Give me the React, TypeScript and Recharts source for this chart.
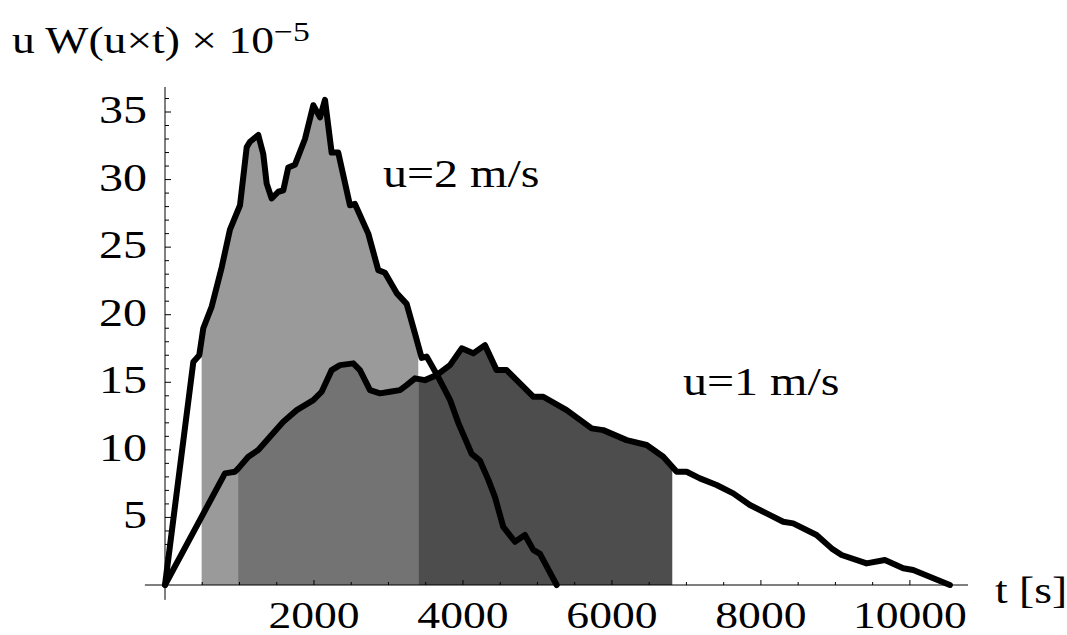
import React from 'react'
import { ComposedChart, Area, Line, XAxis, YAxis, ReferenceLine } from 'recharts'

// u = 2 m/s curve (t in s, value x 10^-5)
const u2T = [0, 380, 460, 514, 627, 761, 872, 1007, 1097, 1141, 1252, 1319, 1365, 1432, 1521, 1588, 1655, 1745, 1879, 1991, 2081, 2148, 2237, 2326, 2483, 2550, 2729, 2863, 2953, 3110, 3244, 3356, 3446, 3513, 3647, 3826, 3937, 4117, 4228, 4340, 4430, 4541, 4698, 4832, 4944, 5034, 5258]
const u2V = [0, 16.5, 17.0, 19.0, 20.6, 23.5, 26.3, 28.1, 32.4, 32.8, 33.3, 31.9, 29.7, 28.6, 29.1, 29.2, 30.9, 31.1, 33.0, 35.5, 34.6, 35.9, 32.0, 32.0, 28.1, 28.2, 26.0, 23.3, 23.1, 21.6, 20.8, 18.6, 16.8, 16.9, 15.6, 13.7, 12.0, 9.7, 9.2, 7.8, 6.5, 4.3, 3.2, 3.7, 2.6, 2.3, 0]

// u = 1 m/s curve
const u1T = [0, 805, 940, 984, 1118, 1252, 1409, 1588, 1768, 1991, 2103, 2237, 2349, 2527, 2617, 2752, 2886, 3020, 3154, 3244, 3356, 3490, 3647, 3826, 3983, 4138, 4295, 4452, 4586, 4944, 5078, 5392, 5727, 5883, 6197, 6466, 6689, 6869, 7003, 7181, 7405, 7628, 7852, 8076, 8299, 8433, 8747, 8949, 9083, 9419, 9664, 9910, 10044, 10537]
const u1V = [0, 8.26, 8.38, 8.63, 9.49, 9.99, 10.97, 12.08, 12.94, 13.68, 14.3, 15.9, 16.27, 16.4, 15.9, 14.42, 14.18, 14.3, 14.42, 14.79, 15.29, 15.16, 15.53, 16.27, 17.51, 17.14, 17.75, 15.9, 15.9, 13.93, 13.93, 12.94, 11.59, 11.46, 10.72, 10.36, 9.49, 8.38, 8.38, 7.89, 7.4, 6.78, 5.92, 5.3, 4.68, 4.56, 3.7, 2.71, 2.22, 1.6, 1.85, 1.24, 1.11, 0]

// shaded bands: start/end time and the curve height read at each edge
const lightBand = [492, 3400]
const lightEdge = [18.2, 17.7]
const midBand = [984, 3400]
const midEdge = [8.63, 15.2]
const darkBand = [3400, 6810]
const darkEdge = [15.2, 8.7]

const xTicks = [500, 1000, 1500, 2000, 2500, 3000, 3500, 4000, 4500, 5000, 5500, 6000, 6500, 7000, 7500, 8000, 8500, 9000, 9500, 10000, 10500]
const xLabels = [2000, 4000, 6000, 8000, 10000]
const yTicks = [1, 2, 3, 4, 5, 6, 7, 8, 9, 10, 11, 12, 13, 14, 15, 16, 17, 18, 19, 20, 21, 22, 23, 24, 25, 26, 27, 28, 29, 30, 31, 32, 33, 34, 35, 36]
const yLabels = [5, 10, 15, 20, 25, 30, 35]

const FONT = "'Liberation Serif', 'Times New Roman', serif"

const rows = new Map<number, any>()
const put = (t: number, key: string, v: number) => {
    const r = rows.get(t) ?? { t }
    r[key] = v
    rows.set(t, r)
}
u2T.forEach((t, i) => put(t, 'u2', u2V[i]))
u1T.forEach((t, i) => put(t, 'u1', u1V[i]))
function band(key: string, range: number[], edge: number[], ts: number[], vs: number[]) {
    put(range[0], key, edge[0])
    ts.forEach((t, i) => { if (t > range[0] && t < range[1]) put(t, key, vs[i]) })
    put(range[1], key, edge[1])
}
band('light', lightBand, lightEdge, u2T, u2V)
band('mid', midBand, midEdge, u1T, u1V)
band('dark', darkBand, darkEdge, u1T, u1V)
const data = [...rows.values()].sort((a, b) => a.t - b.t)

// text stretched a bit wider, like the original
function SText({ x, y, size, anchor = 'start', children }: any) {
    return (
        <text transform={`translate(${x} ${y}) scale(1.2 1)`} style={{ fontFamily: FONT }} fontSize={size} textAnchor={anchor} fill="#000">
            {children}
        </text>
    )
}

const XTick = ({ x, y, payload }: any) => {
    const major = xLabels.includes(payload.value)
    return (
        <g>
            <line x1={x} x2={x} y1={y} y2={y - (major ? 5 : 3)} stroke="#000" strokeWidth={1} />
            {major && <SText x={x} y={y + 43} size={38} anchor="middle">{payload.value}</SText>}
        </g>
    )
}

const YTick = ({ x, y, payload }: any) => {
    const major = yLabels.includes(payload.value)
    return (
        <g>
            <line x1={x} x2={x + (major ? 6 : 4)} y1={y} y2={y} stroke="#000" strokeWidth={1} />
            {major && <SText x={x - 18} y={y + 11} size={40} anchor="end">{payload.value}</SText>}
        </g>
    )
}

export default function App() {
    return (
        <div style={{ position: 'absolute', left: 0, top: 0, width: 1067, height: 635, background: '#fff' }}>
            <ComposedChart width={1067} height={635} data={data}
                margin={{ top: 87, right: 99, bottom: 10, left: 105 }}>
                <XAxis dataKey="t" type="number" domain={[0, 10780]} ticks={xTicks} interval={0}
                    axisLine={false} tickLine={false} tickSize={0} tickMargin={0} height={40}
                    tick={(p: any) => <XTick {...p} />} />
                <YAxis type="number" domain={[0, 36.85]} ticks={yTicks} interval={0}
                    axisLine={false} tickLine={false} tickSize={0} tickMargin={0} width={60}
                    tick={(p: any) => <YTick {...p} />} />
                <Area dataKey="light" type="linear" connectNulls fill="#9a9a9a" fillOpacity={1} stroke="none" baseValue={0} isAnimationActive={false} />
                <Area dataKey="mid" type="linear" connectNulls fill="#737373" fillOpacity={1} stroke="none" baseValue={0} isAnimationActive={false} />
                <Area dataKey="dark" type="linear" connectNulls fill="#4d4d4d" fillOpacity={1} stroke="none" baseValue={0} isAnimationActive={false} />
                <ReferenceLine segment={[{ x: -270, y: 0 }, { x: 10780, y: 0 }]} stroke="#000" strokeWidth={1} ifOverflow="visible" />
                <ReferenceLine segment={[{ x: 0, y: -1.1 }, { x: 0, y: 36.85 }]} stroke="#000" strokeWidth={1} ifOverflow="visible" />
                <Line dataKey="u2" type="linear" connectNulls stroke="#000" strokeWidth={6} dot={false} strokeLinejoin="round" strokeLinecap="round" isAnimationActive={false} />
                <Line dataKey="u1" type="linear" connectNulls stroke="#000" strokeWidth={6} dot={false} strokeLinejoin="round" strokeLinecap="round" isAnimationActive={false} />
            </ComposedChart>
            <svg width={1067} height={635} style={{ position: 'absolute', left: 0, top: 0, pointerEvents: 'none' }}>
                <SText x={12} y={53} size={38}>
                    u W(u×t) × 10<tspan dy={-12} fontSize={28}>−5</tspan>
                </SText>
                <SText x={383} y={187} size={40}>u=2 m/s</SText>
                <SText x={683} y={395} size={40}>u=1 m/s</SText>
                <SText x={995} y={603} size={38}>t [s]</SText>
            </svg>
        </div>
    )
}
